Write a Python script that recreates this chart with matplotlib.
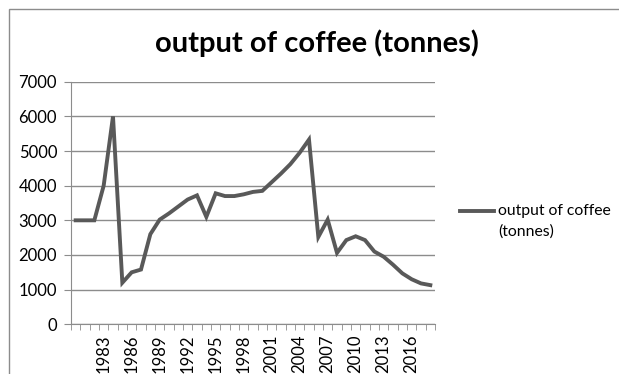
import matplotlib
matplotlib.use('Agg')
import matplotlib.pyplot as plt
from matplotlib.lines import Line2D
from matplotlib.patches import Rectangle
import numpy as np

years = list(range(1980, 2019))
output = [3000, 3000, 3000, 4000, 6000, 1200, 1500, 1580, 2600, 3020,
          3200, 3400, 3600, 3720, 3100, 3780, 3700, 3700, 3750, 3820,
          3850, 4100, 4350, 4620, 4950, 5330, 2520, 3020, 2060, 2430,
          2540, 2430, 2100, 1950, 1720, 1470, 1300, 1180, 1130]
label_years = list(range(1983, 2017, 3))
yticks = [0, 1000, 2000, 3000, 4000, 5000, 6000, 7000]

line_col = '#595959'
grid_col = '#8c8c8c'
plt.rcParams['font.family'] = ['Lato', 'DejaVu Sans']

W, H = 619, 374
fig = plt.figure(figsize=(W / 100, H / 100), dpi=100)

# chart frame, cut off at right and bottom like the screenshot
fig.add_artist(Rectangle((9 / W, -0.1), 1.2, 1 - 9 / H + 0.1,
                         transform=fig.transFigure, fill=False,
                         edgecolor='#8c8c8c', linewidth=1))

ax = fig.add_axes([71 / W, 1 - 324.3 / H, 364 / W, (324.3 - 81.7) / H])
x = np.arange(len(years))
ax.plot(x, output, color=line_col, linewidth=2.8, solid_joinstyle='miter')

ax.set_xlim(-0.5, len(years) - 0.5)
ax.set_ylim(0, 7000)
ax.set_yticks(yticks)
ax.set_yticklabels([str(v) for v in yticks], fontsize=12)
ax.yaxis.grid(True, color=grid_col, linewidth=1)
ax.set_axisbelow(True)

idx = [years.index(y) for y in label_years]
ax.set_xticks(idx)
ax.set_xticklabels([str(y) for y in label_years], rotation=90, fontsize=12)
ax.set_xticks(np.arange(-0.5, len(years)), minor=True)
ax.tick_params(axis='x', which='major', length=0, pad=7)
ax.tick_params(axis='x', which='minor', length=4, color=grid_col, direction='out')
ax.tick_params(axis='y', length=5, color=grid_col, direction='out', pad=5)

for s in ['top', 'right']:
    ax.spines[s].set_visible(False)
ax.spines['left'].set_color(grid_col)
ax.spines['bottom'].set_color(grid_col)

fig.text(317 / W, 1 - 43 / H, 'output of coffee (tonnes)', fontsize=21,
         fontweight='bold', ha='center', va='center')

# legend
fig.add_artist(Line2D([460 / W, 494 / W], [1 - 211 / H, 1 - 211 / H],
                      transform=fig.transFigure, color=line_col, linewidth=2.8))
fig.text(498 / W, 1 - 211 / H, 'output of coffee', fontsize=11.3, va='center')
fig.text(498 / W, 1 - 232 / H, '(tonnes)', fontsize=11.3, va='center')

fig.savefig('out.png', dpi=100)
